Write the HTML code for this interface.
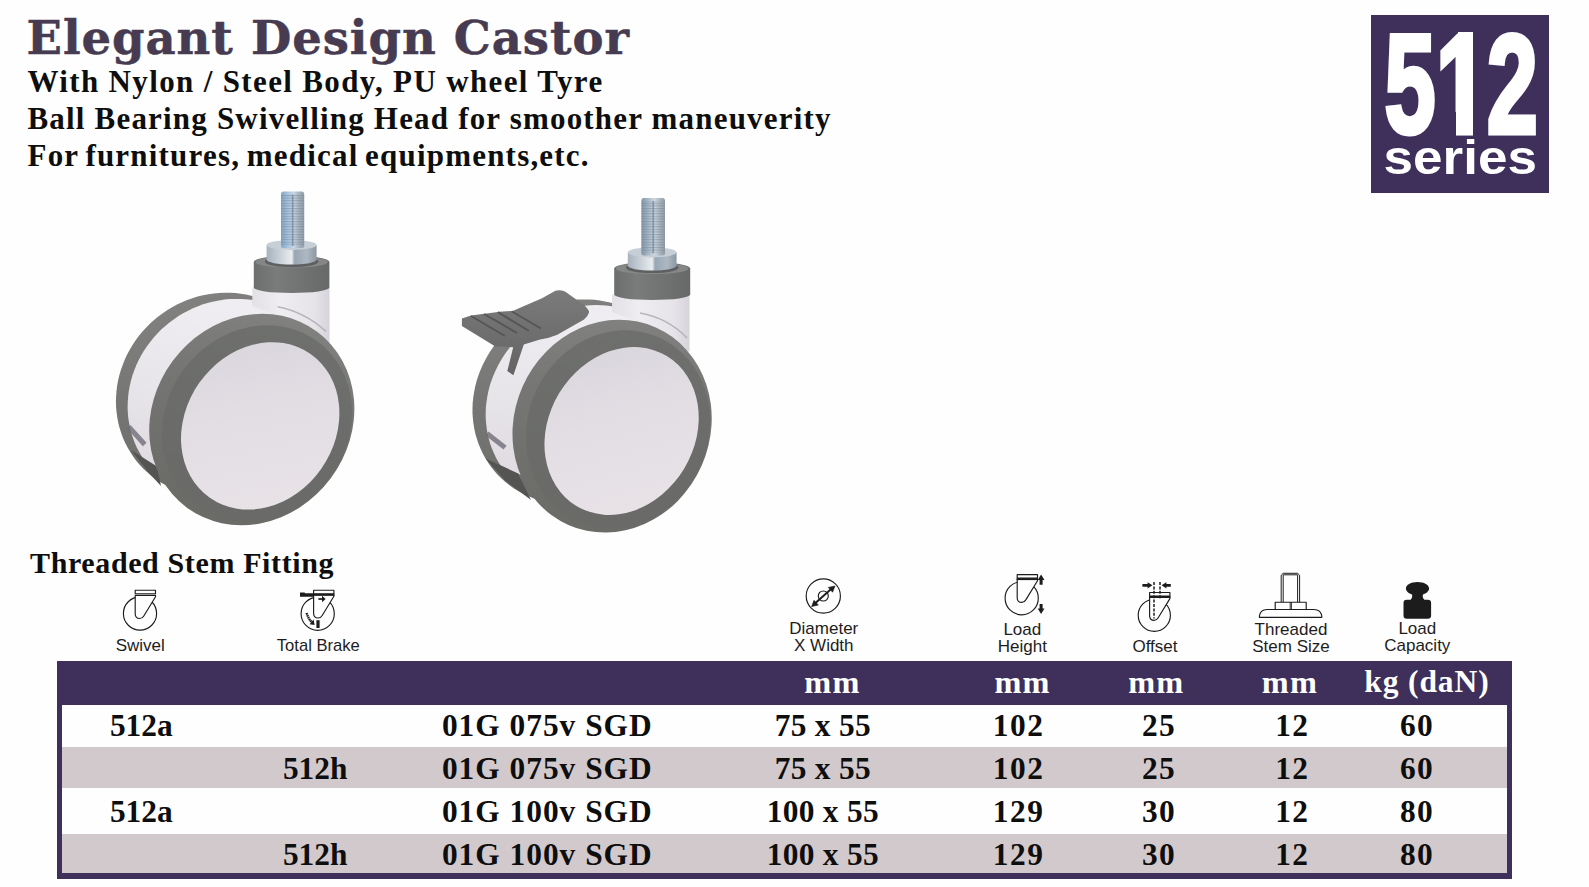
<!DOCTYPE html>
<html lang="en">
<head>
<meta charset="utf-8">
<title>Elegant Design Castor - 512 series</title>
<style>
html,body{margin:0;padding:0;background:#fefefe;}
body{width:1589px;height:887px;position:relative;overflow:hidden;font-family:"Liberation Serif",serif;color:#0e0e0e;}
.abs{position:absolute;white-space:nowrap;}
h1{position:absolute;margin:0;left:26.5px;top:10.36px;font:bold 46.5px/56px "DejaVu Serif","Liberation Serif",serif;color:#463b51;white-space:nowrap;letter-spacing:0.95px;-webkit-text-stroke:0.5px #463b51;}
.sub{position:absolute;left:27.5px;font:bold 31px/36px "Liberation Serif",serif;color:#0e0e0e;white-space:nowrap;margin:0;}
#badge{position:absolute;left:1371px;top:15px;width:178px;height:178px;background:#3e2f5b;color:#fff;overflow:hidden;}
#badge div{position:absolute;left:0;top:0;white-space:nowrap;transform-origin:0 0;font-family:"Liberation Sans",sans-serif;font-weight:bold;}
h2{position:absolute;margin:0;left:30px;font:bold 30px/36px "Liberation Serif",serif;white-space:nowrap;color:#0e0e0e;letter-spacing:0.62px;}
.lbl{position:absolute;font:17px/17.1px "Liberation Sans",sans-serif;color:#1d1d1d;text-align:center;white-space:nowrap;transform:translateX(-50%);}
#tbl{position:absolute;left:57px;top:661px;width:1455px;height:217.6px;background:#3e2f5b;}
.row{position:absolute;left:5px;width:1444.6px;}
.t{position:absolute;white-space:nowrap;transform:translateX(-50%);font:bold 31.4px/36px "Liberation Serif",serif;color:#0e0e0e;}
.th{color:#fff;font-size:31.5px;}
.w{background:#fefefe;}
.g{background:#d2c9cc;}
</style>
</head>
<body>
<h1>Elegant Design Castor</h1>
<p class="sub" style="top:63.74px;letter-spacing:1.35px;word-spacing:0px;">With Nylon / Steel Body, PU wheel Tyre</p>
<p class="sub" style="top:100.54px;letter-spacing:1.19px;word-spacing:0px;">Ball Bearing Swivelling Head for smoother maneuverity</p>
<p class="sub" style="top:137.54px;letter-spacing:1.2px;word-spacing:-2.3px;">For furnitures, medical equipments,etc.</p>
<div id="badge">
  <div style="font-size:141px;line-height:141px;-webkit-text-stroke:5px #fff;transform:translate(13.5px,-0.8px) scaleX(0.652);">512</div>
  <i style="position:absolute;left:66px;top:97px;width:19.3px;height:27px;background:#3e2f5b"></i><i style="position:absolute;left:102.3px;top:97px;width:14.4px;height:27px;background:#3e2f5b"></i><i style="position:absolute;left:87.3px;top:16.6px;width:15px;height:103px;background:#fff"></i>
  <div style="font-size:49px;line-height:49px;transform:translate(12.6px,118px) scaleX(1.082);">series</div>
</div>
<svg class="abs" style="left:0;top:0" width="1589" height="887" viewBox="0 0 1589 887">
<defs>
<linearGradient id="gTyre" x1="0" y1="0" x2="0.35" y2="1"><stop offset="0" stop-color="#858684"/><stop offset="0.45" stop-color="#767774"/><stop offset="1" stop-color="#6b6b68"/></linearGradient>
<linearGradient id="gBody" x1="0.2" y1="0" x2="0" y2="1"><stop offset="0" stop-color="#efedf1"/><stop offset="0.4" stop-color="#e8e5ea"/><stop offset="0.75" stop-color="#dfdbe1"/><stop offset="1" stop-color="#d8d3da"/></linearGradient>
<linearGradient id="gDisc" x1="0.1" y1="0.05" x2="0.9" y2="0.95"><stop offset="0" stop-color="#d9d5dc"/><stop offset="0.45" stop-color="#e2dee4"/><stop offset="1" stop-color="#e9e3e7"/></linearGradient>
<linearGradient id="gNeck" x1="0" y1="0" x2="1" y2="0"><stop offset="0" stop-color="#e3e0e6"/><stop offset="0.35" stop-color="#efedf1"/><stop offset="0.8" stop-color="#e6e3e9"/><stop offset="1" stop-color="#d7d3da"/></linearGradient>
<linearGradient id="gCollar" x1="0" y1="0" x2="1" y2="0"><stop offset="0" stop-color="#6c6d6d"/><stop offset="0.3" stop-color="#7a7b7b"/><stop offset="1" stop-color="#676868"/></linearGradient>
<linearGradient id="gNut" x1="0" y1="0" x2="1" y2="0"><stop offset="0" stop-color="#a7b2bd"/><stop offset="0.3" stop-color="#cdd4db"/><stop offset="0.5" stop-color="#e8ecf0"/><stop offset="0.56" stop-color="#98a6b4"/><stop offset="0.8" stop-color="#adb8c3"/><stop offset="1" stop-color="#8d98a3"/></linearGradient>
<linearGradient id="gBolt" x1="0" y1="0" x2="1" y2="0"><stop offset="0" stop-color="#86a6c6"/><stop offset="0.3" stop-color="#a9c5df"/><stop offset="0.55" stop-color="#c9d8e4"/><stop offset="0.75" stop-color="#aab6c0"/><stop offset="1" stop-color="#8f9ba6"/></linearGradient>
<linearGradient id="gBolt2" x1="0" y1="0" x2="1" y2="0"><stop offset="0" stop-color="#8595a4"/><stop offset="0.3" stop-color="#a9b9c8"/><stop offset="0.55" stop-color="#cfd8e0"/><stop offset="0.75" stop-color="#b0bac3"/><stop offset="1" stop-color="#919ba4"/></linearGradient>
<pattern id="pThread" width="4" height="2.6" patternUnits="userSpaceOnUse"><rect width="4" height="1.1" fill="#6f8296"/></pattern>
<linearGradient id="gLever" x1="0" y1="0" x2="0" y2="1"><stop offset="0" stop-color="#7a7b7a"/><stop offset="1" stop-color="#626362"/></linearGradient>
<clipPath id="clip1"><path d="M60,150 L420,150 L420,626.8 L60,407.9Z"/></clipPath>
<clipPath id="clip2"><path d="M400,150 L800,150 L800,604 L400,418.9Z"/></clipPath>
</defs>
<g id="castor1">
<path d="M115.9,401.8 L116.1,396.5 L116.5,391.2 L117.1,385.8 L118.1,380.5 L119.3,375.2 L120.9,370.0 L122.7,364.9 L124.7,359.8 L127.0,354.8 L129.6,349.9 L132.4,345.2 L135.5,340.6 L138.7,336.1 L142.3,331.8 L146.0,327.7 L149.9,323.8 L154.0,320.0 L158.3,316.5 L162.8,313.2 L167.4,310.1 L172.1,307.2 L177.0,304.6 L182.0,302.2 L187.2,300.1 L192.4,298.2 L197.6,296.6 L203.0,295.3 L208.4,294.2 L213.8,293.4 L219.2,292.9 L224.6,292.7 L230.0,292.7 L235.4,293.1 L240.8,293.7 L246.1,294.6 L251.3,295.7 L256.4,297.1 L261.4,298.8 L266.4,300.8 L271.1,303.0 L281.6,308.0 L286.3,310.5 L290.8,313.2 L295.1,316.2 L299.3,319.4 L303.2,322.8 L307.0,326.4 L310.5,330.2 L313.9,334.2 L316.9,338.4 L319.8,342.8 L322.4,347.3 L324.8,351.9 L326.9,356.7 L328.7,361.6 L330.3,366.6 L331.6,371.7 L332.6,376.9 L333.3,382.1 L333.8,387.4 L334.0,392.8 L333.8,398.1 L333.4,403.4 L332.8,408.8 L331.8,414.1 L330.6,419.4 L329.0,424.6 L327.2,429.7 L325.2,434.8 L322.9,439.8 L320.3,444.7 L317.5,449.4 L314.4,454.0 L311.2,458.5 L307.6,462.8 L303.9,466.9 L300.0,470.8 L295.9,474.6 L291.6,478.1 L287.1,481.4 L282.5,484.5 L277.8,487.4 L272.9,490.0 L267.9,492.4 L262.7,494.5 L257.5,496.4 L252.3,498.0 L246.9,499.3 L241.5,500.4 L236.1,501.2 L230.7,501.7 L225.3,501.9 L219.9,501.9 L214.5,501.5 L209.1,500.9 L203.8,500.0 L198.6,498.9 L193.5,497.5 L188.5,495.8 L183.5,493.8 L178.8,491.6 L168.3,486.6 L163.6,484.1 L159.1,481.4 L154.8,478.4 L150.6,475.2 L146.7,471.8 L142.9,468.2 L139.4,464.4 L136.0,460.4 L133.0,456.2 L130.1,451.8 L127.5,447.3 L125.1,442.7 L123.0,437.9 L121.2,433.0 L119.6,428.0 L118.3,422.9 L117.3,417.7 L116.6,412.5 L116.1,407.2Z" fill="url(#gTyre)"/>
<path clip-path="url(#clip1)" d="M175.9,496.0 L150.8,468.6 L147.5,464.7 L144.4,460.5 L141.6,456.2 L139.0,451.8 L136.7,447.2 L134.6,442.4 L132.8,437.6 L131.2,432.6 L130.0,427.6 L129.0,422.5 L128.2,417.3 L127.8,412.1 L127.6,406.8 L127.8,401.5 L128.2,396.2 L128.8,391.0 L129.8,385.7 L131.0,380.5 L132.5,375.3 L134.3,370.2 L136.3,365.2 L138.6,360.3 L141.1,355.5 L143.9,350.8 L147.0,346.3 L150.2,341.9 L153.7,337.6 L157.4,333.5 L161.2,329.6 L165.3,325.9 L169.5,322.4 L174.0,319.2 L178.5,316.1 L183.2,313.3 L188.1,310.7 L193.0,308.3 L198.1,306.2 L203.2,304.3 L208.4,302.8 L213.7,301.4 L219.0,300.4 L224.4,299.6 L229.7,299.1 L235.1,298.9 L240.5,298.9 L245.8,299.2 L251.1,299.8 L256.3,300.7 L261.5,301.9 L266.5,303.3 L271.5,305.0 L276.4,306.9 L281.1,309.1 L285.7,311.5 L290.1,314.2 L294.4,317.1 L316.3,332.9 L320.3,336.1 L324.1,339.4 L327.7,343.0 L331.1,346.9 L334.3,350.9 L337.2,355.1 L339.9,359.4 L342.4,364.0 L344.6,368.7 L346.6,373.5 L348.3,378.5 L349.7,383.5 L350.9,388.7 L351.8,393.9 L352.4,399.3 L352.8,404.6 L352.9,410.1 L352.7,415.5 L352.2,421.0 L351.4,426.4 L350.4,431.8 L349.1,437.2 L347.5,442.6 L345.7,447.9 L343.6,453.1 L341.3,458.2 L338.7,463.2 L335.9,468.1 L332.8,472.9 L329.6,477.5 L326.1,481.9 L322.4,486.2 L318.5,490.3 L314.5,494.2 L310.2,497.9 L305.8,501.4 L301.3,504.7 L296.6,507.7 L291.8,510.5 L286.9,513.0 L281.9,515.3 L276.8,517.3 L271.6,519.0 L266.4,520.5 L261.2,521.7 L255.9,522.6 L250.6,523.3 L245.3,523.6 L240.0,523.7 L234.8,523.5 L229.6,523.0 L224.5,522.2 L219.4,521.1 L214.4,519.8 L209.6,518.1 L204.8,516.3 L200.2,514.1 L195.7,511.7 L191.4,509.0 L187.3,506.1 L183.3,502.9 L179.5,499.6Z" fill="url(#gBody)"/>
<path d="M131,450 L157,466.5 L161,486 L148,472 Z" fill="#545452"/>
<path d="M252.3,287.5 L252.3,306.0 L270.3,313.0 L329.5,350.0 L329.5,287.5Z" fill="url(#gNeck)"/>
<path d="M253.8,262.0 L253.8,287.5 A37.8,5.5 0 0 0 329.4,287.5 L329.4,262.0 A37.8,6.5 0 0 0 253.8,262.0Z" fill="url(#gCollar)"/>
<ellipse cx="291.6" cy="262.0" rx="36.3" ry="5.6" fill="#858686"/>
<ellipse cx="291.6" cy="261.6" rx="27.0" ry="5.5" fill="#5e5f60"/>
<path d="M266.6,245.0 L266.6,259.6 A25.0,5 0 0 0 316.6,259.6 L316.6,245.0Z" fill="url(#gNut)"/>
<ellipse cx="291.6" cy="245.0" rx="25.0" ry="5" fill="#c6ced6"/>
<rect x="281.0" y="191.5" width="23.2" height="56.5" rx="2.5" fill="url(#gBolt)"/>
<rect x="281.0" y="194.5" width="23.2" height="50.5" fill="url(#pThread)" opacity="0.5"/>
<rect x="291.8" y="194.5" width="1.8" height="51.5" fill="#6d8196" opacity="0.7"/>
<path d="M277.7,306.7 Q305,312 326,331.4" stroke="#b9b5bc" stroke-width="1.6" fill="none"/>
<ellipse cx="251.8" cy="419.5" rx="98.5" ry="109.5" transform="rotate(36.7 251.8 419.5)" fill="url(#gTyre)" />
<ellipse cx="257.0" cy="423.5" rx="91.0" ry="102.0" transform="rotate(36.7 257.0 423.5)" fill="#6a6b68" opacity="0.75"/>
<ellipse cx="260.2" cy="425.9" rx="74.6" ry="87.8" transform="rotate(35 260.2 425.9)" fill="url(#gDisc)" />
<rect x="130.5" y="425" width="24" height="5" fill="#6f6d78" transform="rotate(48 130.5 425)" opacity="0.8"/>
</g>
<g id="castor2">
<path d="M501.5,478.5 L497.9,474.9 L494.4,471.0 L491.2,466.9 L488.2,462.7 L485.4,458.3 L482.9,453.8 L480.7,449.1 L478.7,444.3 L477.0,439.3 L475.5,434.3 L474.4,429.2 L473.5,424.0 L472.9,418.7 L472.5,413.4 L472.5,408.0 L472.7,402.7 L473.3,397.3 L474.1,392.0 L475.2,386.6 L476.5,381.4 L478.2,376.1 L480.1,371.0 L482.2,365.9 L484.7,360.9 L487.4,356.1 L490.3,351.3 L493.4,346.7 L496.8,342.3 L500.4,338.0 L504.3,333.9 L508.3,330.0 L512.5,326.3 L516.8,322.7 L521.4,319.4 L526.1,316.4 L530.9,313.5 L535.8,310.9 L540.9,308.6 L546.0,306.5 L551.3,304.6 L556.6,303.1 L562.0,301.8 L567.4,300.8 L572.8,300.0 L578.2,299.6 L583.6,299.4 L589.1,299.5 L594.4,299.8 L599.8,300.5 L605.0,301.4 L610.2,302.6 L615.3,304.1 L620.3,305.9 L632.3,310.4 L637.1,312.4 L641.9,314.6 L646.4,317.2 L650.9,319.9 L655.1,322.9 L659.2,326.1 L663.1,329.6 L666.7,333.2 L670.2,337.1 L673.4,341.2 L676.4,345.4 L679.2,349.8 L681.7,354.3 L683.9,359.0 L685.9,363.8 L687.6,368.8 L689.1,373.8 L690.2,378.9 L691.1,384.1 L691.7,389.4 L692.1,394.7 L692.1,400.1 L691.9,405.4 L691.3,410.8 L690.5,416.1 L689.4,421.5 L688.1,426.7 L686.4,432.0 L684.5,437.1 L682.4,442.2 L679.9,447.2 L677.2,452.0 L674.3,456.8 L671.2,461.4 L667.8,465.8 L664.2,470.1 L660.3,474.2 L656.3,478.1 L652.1,481.8 L647.8,485.4 L643.2,488.7 L638.5,491.7 L633.7,494.6 L628.8,497.2 L623.7,499.5 L618.6,501.6 L613.3,503.5 L608.0,505.0 L602.6,506.3 L597.2,507.3 L591.8,508.1 L586.4,508.5 L581.0,508.7 L575.5,508.6 L570.2,508.3 L564.8,507.6 L559.6,506.7 L554.4,505.5 L549.3,504.0 L544.3,502.2 L532.3,497.7 L527.5,495.7 L522.7,493.5 L518.2,490.9 L513.7,488.2 L509.5,485.2 L505.4,482.0Z" fill="url(#gTyre)"/>
<path clip-path="url(#clip2)" d="M486.7,428.2 L486.1,423.0 L485.7,417.8 L485.7,412.5 L485.9,407.2 L486.5,401.9 L487.3,396.6 L488.3,391.4 L489.7,386.1 L491.3,381.0 L493.2,375.9 L495.4,370.9 L497.8,366.0 L500.4,361.2 L503.3,356.5 L506.4,351.9 L509.8,347.5 L513.3,343.3 L517.1,339.2 L521.1,335.4 L525.2,331.7 L529.6,328.2 L534.0,324.9 L538.7,321.9 L543.4,319.1 L548.3,316.5 L553.3,314.2 L558.4,312.1 L563.6,310.3 L568.9,308.7 L574.2,307.5 L579.5,306.5 L584.9,305.7 L590.2,305.2 L595.6,305.1 L601.0,305.2 L606.3,305.5 L611.5,306.2 L616.7,307.1 L621.9,308.3 L626.9,309.7 L631.8,311.5 L636.6,313.4 L641.3,315.7 L645.8,318.2 L650.2,320.9 L654.4,323.9 L658.4,327.1 L676.6,342.3 L680.4,345.7 L684.0,349.3 L687.4,353.1 L690.6,357.2 L693.5,361.4 L696.3,365.8 L698.8,370.4 L701.1,375.1 L703.1,380.0 L704.9,385.0 L706.5,390.1 L707.7,395.3 L708.8,400.6 L709.5,405.9 L710.0,411.3 L710.2,416.8 L710.2,422.3 L709.8,427.8 L709.3,433.3 L708.4,438.7 L707.3,444.2 L705.9,449.5 L704.3,454.9 L702.4,460.1 L700.2,465.3 L697.9,470.3 L695.2,475.2 L692.4,480.0 L689.3,484.6 L686.1,489.1 L682.6,493.4 L678.9,497.6 L675.1,501.5 L671.0,505.2 L666.9,508.7 L662.5,512.0 L658.0,515.0 L653.4,517.8 L648.7,520.4 L643.9,522.7 L639.0,524.7 L634.0,526.4 L629.0,527.9 L623.9,529.1 L618.8,530.1 L613.7,530.7 L608.5,531.0 L603.4,531.1 L598.3,530.9 L593.2,530.4 L588.2,529.6 L583.3,528.5 L578.4,527.1 L573.6,525.5 L569.0,523.6 L564.4,521.4 L560.0,519.0 L555.7,516.3 L551.6,513.3 L547.6,510.1 L518.2,485.5 L514.4,482.1 L510.7,478.5 L507.3,474.7 L504.1,470.7 L501.2,466.5 L498.5,462.2 L496.0,457.7 L493.8,453.1 L491.8,448.3 L490.1,443.4 L488.7,438.5 L487.5,433.4Z" fill="url(#gBody)"/>
<path d="M485.5,458.5 L518,473.5 L531,500 L505.2,480.6 Z" fill="#545452"/>
<path d="M612.0,294.5 L612.0,312.0 L630.0,319.0 L689.5,352.0 L689.5,294.5Z" fill="url(#gNeck)"/>
<path d="M614.2,268.5 L614.2,294.5 A38.0,5.5 0 0 0 690.2,294.5 L690.2,268.5 A38.0,6.5 0 0 0 614.2,268.5Z" fill="url(#gCollar)"/>
<ellipse cx="652.2" cy="268.5" rx="36.5" ry="5.6" fill="#858686"/>
<ellipse cx="652.2" cy="267.6" rx="26.4" ry="5.5" fill="#5e5f60"/>
<path d="M627.8,252.4 L627.8,265.6 A24.4,5 0 0 0 676.6,265.6 L676.6,252.4Z" fill="url(#gNut)"/>
<ellipse cx="652.2" cy="252.4" rx="24.4" ry="5" fill="#c6ced6"/>
<rect x="641.4" y="198.0" width="23.6" height="57.4" rx="2.5" fill="url(#gBolt2)"/>
<rect x="641.4" y="201.0" width="23.6" height="51.4" fill="url(#pThread)" opacity="0.5"/>
<rect x="652.4" y="201.0" width="1.8" height="52.4" fill="#6d8196" opacity="0.7"/>
<path d="M640,313 Q668,318 687,338" stroke="#b9b5bc" stroke-width="1.6" fill="none"/>
<ellipse cx="612.1" cy="426.2" rx="97.9" ry="108.0" transform="rotate(23.9 612.1 426.2)" fill="url(#gTyre)" />
<ellipse cx="618.0" cy="429.2" rx="90.4" ry="100.5" transform="rotate(23.9 618.0 429.2)" fill="#6a6b68" opacity="0.75"/>
<ellipse cx="621.6" cy="431.0" rx="73.0" ry="87.5" transform="rotate(31.1 621.6 431.0)" fill="url(#gDisc)" />
<rect x="488.5" y="431.5" width="23" height="5" fill="#6f6d78" transform="rotate(38 488.5 431.5)" opacity="0.8"/>
<path d="M461.9,318.4 L471,315.6 L499.8,311.7 L513.2,310.8 L542,298.3 L555.4,290.7 Q560,289.5 565,291.6 L584.1,305 Q590,311 588.9,312.7 Q588,316 584.1,319.4 L557.3,334.7 Q548,338.6 540,339.5 L523.8,344.6 L513.4,375.2 L507.3,371.1 L513.2,347.2 L495,346.2 L461.9,326.1 Z" fill="url(#gLever)"/>
<path d="M471,316 L505,336 M484,314 L517,333 M498,312.2 L529,331 M512,311.5 L541,328.5" stroke="#555655" stroke-width="2" fill="none"/>
</g>
</svg>
<h2 style="top:544.58px;">Threaded Stem Fitting</h2>
<svg class="abs" style="left:0;top:0" width="1589" height="887" viewBox="0 0 1589 887">
<g fill="none" stroke="#1c1c1c" stroke-width="1.15" stroke-linejoin="round">
<circle cx="140" cy="613.5" r="16.6"/>
<path d="M135.2,595.3 V614.3 Q135.5,618.5 139.6,618.5 Q142.4,618.5 143.8,616.0 L155.5,596.8 V595.3 Z" fill="#fefefe"/>
<rect x="135.2" y="590.2" width="20.3" height="3.5" fill="#fefefe"/>
<circle cx="317.7" cy="613.7" r="16.6"/>
<path d="M313.6,594.8 V613.8 Q313.9,618.0 318.0,618.0 Q320.8,618.0 322.2,615.5 L333.9,596.3 V594.8 Z" fill="#fefefe"/>
<rect x="313.1" y="593.5" width="21.3" height="2.2" fill="#1c1c1c" stroke="none"/>
<rect x="313.6" y="590.2" width="20.3" height="3.5" fill="#fefefe"/>
<path d="M300,592.4 h4.8 v0.8 h9 v3.6 h-13.8 Z" fill="#1c1c1c" stroke="none"/>
<path d="M318.4,599 H323" stroke-width="1.7"/><path d="M322,595.8 L325.6,599 L322,602.2Z" fill="#1c1c1c" stroke="none"/>
<path d="M306.6,613 Q308.6,619.5 312.3,622.6" stroke-width="2.4" stroke-dasharray="1.6 0.5"/><path d="M309.6,624.2 L314.6,625 L313.6,619.6Z" fill="#1c1c1c" stroke="none"/>
<rect x="316.4" y="620.2" width="3.2" height="7.8" fill="#1c1c1c" stroke="none"/>
<circle cx="823.3" cy="596" r="17.1"/><circle cx="823.3" cy="596" r="5"/>
<path d="M814.6,603.8 L832,588.2" stroke-width="1.9"/>
<path d="M811.6,606.6 L814.0,600.3 L818.3,605.1Z M835,586 L832.6,592.2 L828.3,587.4Z" fill="#1c1c1c" stroke="#1c1c1c" stroke-width="0.6"/>
<circle cx="1021.7" cy="598.2" r="16.6"/>
<path d="M1017.2,579.2 V598.2 Q1017.5,602.4 1021.6,602.4 Q1024.4,602.4 1025.8,599.9 L1037.5,580.7 V579.2 Z" fill="#fefefe"/>
<rect x="1016.7" y="577.9" width="21.3" height="2.2" fill="#1c1c1c" stroke="none"/>
<rect x="1017.2" y="574.6" width="20.3" height="3.5" fill="#fefefe"/>
<path d="M1041.1,574.6 L1044.5,580 H1042.6 V584.8 H1039.6 V580 H1037.7Z M1041.1,614 L1044.5,608.6 H1042.6 V604 H1039.6 V608.6 H1037.7Z" fill="#1c1c1c" stroke="none"/>
<circle cx="1154.3" cy="615.3" r="16.1"/>
<path d="M1149.6,597.1 V616.1 Q1149.9,620.3 1154.0,620.3 Q1156.8,620.3 1158.2,617.8 L1169.9,598.6 V597.1 Z" fill="#fefefe"/>
<rect x="1149.1" y="595.8" width="21.3" height="2.2" fill="#1c1c1c" stroke="none"/>
<rect x="1149.6" y="592.5" width="20.3" height="3.5" fill="#fefefe"/>
<path d="M1154,582 V618.5 M1160,582 V598.2" stroke-width="1.5" stroke-dasharray="3 1.4"/>
<path d="M1142.4,583.9 H1147.6 V582.2 L1152.4,585.3 L1147.6,588.4 V586.8 H1142.4Z M1170.8,583.9 H1166.4 V582.2 L1161.6,585.3 L1166.4,588.4 V586.8 H1170.8Z" fill="#1c1c1c" stroke="none"/>
<path d="M1281.2,602.2 V575.2 L1283.2,573.3 H1297.6 L1299.6,575.2 V602.2 M1283.2,602.2 V574.8 H1297.6 V602.2" stroke-width="1"/>
<rect x="1275.2" y="602.2" width="31" height="7.3"/><path d="M1290.2,602.2 V609.5 M1291.4,602.2 V609.5" stroke-width="0.9"/>
<path d="M1259.4,617.3 V616 Q1260.4,609.5 1267,609.5 H1314 Q1320.8,609.5 1321.8,616 V617.3 Z"/>
<path d="M1417.5,582.1 C1424,582.1 1429.1,585 1429.1,588.6 C1429.1,591.4 1426,593.6 1423,594.6 C1422.4,596.4 1422.8,598.4 1424.4,599.7 H1427.8 Q1431.1,599.7 1431.1,603 V615.5 Q1431.1,618.8 1427.8,618.8 H1406.8 Q1403.5,618.8 1403.5,615.5 V603 Q1403.5,599.7 1406.8,599.7 H1410.6 C1412.2,598.4 1412.6,596.4 1412,594.6 C1409,593.6 1405.9,591.4 1405.9,588.6 C1405.9,585 1411,582.1 1417.5,582.1Z" fill="#1c1c1c" stroke="none"/>
</g></svg>
<div class="lbl" style="left:140.2px;top:637.06px;font-size:17px;">Swivel</div>
<div class="lbl" style="left:318.3px;top:637.20px;font-size:16.6px;">Total Brake</div>
<div class="lbl" style="left:823.8px;top:620.06px;font-size:17px;">Diameter<br>X Width</div>
<div class="lbl" style="left:1022.3px;top:621.06px;font-size:17px;">Load<br>Height</div>
<div class="lbl" style="left:1155px;top:637.96px;font-size:17px;">Offset</div>
<div class="lbl" style="left:1291px;top:621.06px;font-size:17px;">Threaded<br>Stem Size</div>
<div class="lbl" style="left:1417.3px;top:620.06px;font-size:17px;">Load<br>Capacity</div>
<div id="tbl">
  <div class="row w" style="top:43.5px;height:42.4px;"></div>
  <div class="row g" style="top:85.9px;height:40.9px;"></div>
  <div class="row w" style="top:126.8px;height:45.9px;"></div>
  <div class="row g" style="top:172.7px;height:39.3px;"></div>
  <span class="t th" style="left:775.4px;top:2.60px;font-size:32.3px;letter-spacing:1.2px;">mm</span>
  <span class="t th" style="left:965.5px;top:2.60px;font-size:32.3px;letter-spacing:1.2px;">mm</span>
  <span class="t th" style="left:1099.3px;top:2.60px;font-size:32.3px;letter-spacing:1.2px;">mm</span>
  <span class="t th" style="left:1232.9px;top:2.60px;font-size:32.3px;letter-spacing:1.2px;">mm</span>
  <span class="t th" style="left:1369.9px;top:2.87px;font-size:31.5px;letter-spacing:0.9px;">kg (daN)</span>
  <span class="t" style="left:84.3px;top:46.70px;">512a</span>
  <span class="t" style="left:490.3px;top:46.70px;letter-spacing:1.0px;">01G 075v SGD</span>
  <span class="t" style="left:765.8px;top:46.70px;letter-spacing:0.3px;">75 x 55</span>
  <span class="t" style="left:961.6px;top:46.70px;letter-spacing:1.6px;">102</span>
  <span class="t" style="left:1102.0px;top:46.70px;letter-spacing:1.2px;">25</span>
  <span class="t" style="left:1235.2px;top:46.70px;letter-spacing:1.2px;">12</span>
  <span class="t" style="left:1360.1px;top:46.70px;letter-spacing:1.4px;">60</span>
  <span class="t" style="left:258.2px;top:89.90px;">512h</span>
  <span class="t" style="left:490.3px;top:89.90px;letter-spacing:1.0px;">01G 075v SGD</span>
  <span class="t" style="left:765.8px;top:89.90px;letter-spacing:0.3px;">75 x 55</span>
  <span class="t" style="left:961.6px;top:89.90px;letter-spacing:1.6px;">102</span>
  <span class="t" style="left:1102.0px;top:89.90px;letter-spacing:1.2px;">25</span>
  <span class="t" style="left:1235.2px;top:89.90px;letter-spacing:1.2px;">12</span>
  <span class="t" style="left:1360.1px;top:89.90px;letter-spacing:1.4px;">60</span>
  <span class="t" style="left:84.3px;top:133.10px;">512a</span>
  <span class="t" style="left:490.3px;top:133.10px;letter-spacing:1.0px;">01G 100v SGD</span>
  <span class="t" style="left:765.8px;top:133.10px;letter-spacing:0.3px;">100 x 55</span>
  <span class="t" style="left:961.6px;top:133.10px;letter-spacing:1.6px;">129</span>
  <span class="t" style="left:1102.0px;top:133.10px;letter-spacing:1.2px;">30</span>
  <span class="t" style="left:1235.2px;top:133.10px;letter-spacing:1.2px;">12</span>
  <span class="t" style="left:1360.1px;top:133.10px;letter-spacing:1.4px;">80</span>
  <span class="t" style="left:258.2px;top:176.00px;">512h</span>
  <span class="t" style="left:490.3px;top:176.00px;letter-spacing:1.0px;">01G 100v SGD</span>
  <span class="t" style="left:765.8px;top:176.00px;letter-spacing:0.3px;">100 x 55</span>
  <span class="t" style="left:961.6px;top:176.00px;letter-spacing:1.6px;">129</span>
  <span class="t" style="left:1102.0px;top:176.00px;letter-spacing:1.2px;">30</span>
  <span class="t" style="left:1235.2px;top:176.00px;letter-spacing:1.2px;">12</span>
  <span class="t" style="left:1360.1px;top:176.00px;letter-spacing:1.4px;">80</span>
</div>
</body>
</html>
